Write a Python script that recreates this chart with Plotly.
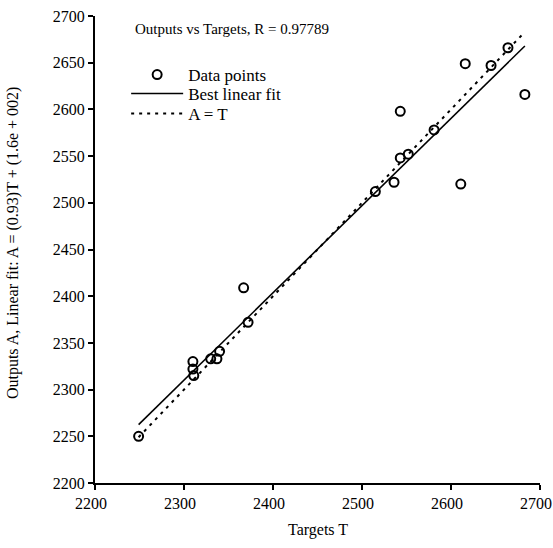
import numpy as np
import plotly.graph_objects as go

# Targets T and network outputs A
targets = [2249, 2310, 2310, 2311, 2330, 2337, 2340, 2367, 2372, 2515,
           2536, 2543, 2543, 2552, 2581, 2611, 2616, 2645, 2664, 2683]
outputs = [2250, 2330, 2322, 2315, 2333, 2333, 2341, 2409, 2372, 2512,
           2522, 2548, 2598, 2552, 2578, 2520, 2649, 2647, 2666, 2616]

# Regression line parameters and correlation
fit_slope = 0.934
fit_intercept = 162.0
r_value = 0.97789

x_ticks = [2200, 2300, 2400, 2500, 2600, 2700]
y_ticks = [2200, 2250, 2300, 2350, 2400, 2450, 2500, 2550, 2600, 2650, 2700]

FONT = "Liberation Serif, Times New Roman, serif"

t = np.array(targets, dtype=float)
t_span = np.array([t.min(), t.max()])
fit_line = fit_slope * t_span + fit_intercept

fig = go.Figure()
fig.add_trace(go.Scatter(
    x=targets, y=outputs, mode="markers", name="Data points",
    marker=dict(symbol="circle-open", size=9, color="black",
                line=dict(width=2, color="black")),
    legend="legend",
))
fig.add_trace(go.Scatter(
    x=t_span, y=fit_line, mode="lines", name="Best linear fit",
    line=dict(color="black", width=1.6),
    legend="legend2",
))
fig.add_trace(go.Scatter(
    x=t_span, y=t_span, mode="lines", name="A = T",
    line=dict(color="black", width=2, dash="3px,5px"),
    legend="legend3",
))

txt = dict(family=FONT, color="black")

fig.add_annotation(
    x=0.085, y=0.972, xref="paper", yref="paper",
    xanchor="left", yanchor="middle", showarrow=False,
    text=f"Outputs vs Targets, R = {r_value:.5f}",
    font=dict(size=15, **txt),
)
fig.add_annotation(
    x=0.501, y=-0.10, xref="paper", yref="paper",
    xanchor="center", yanchor="middle", showarrow=False,
    text="Targets T", font=dict(size=16, **txt),
)
fig.add_annotation(
    x=-0.184, y=0.514, xref="paper", yref="paper",
    xanchor="center", yanchor="middle", showarrow=False, textangle=-90,
    text="Outputs A, Linear fit: A = (0.93)T + (1.6e + 002)",
    font=dict(size=16, **txt),
)

axis_common = dict(
    showline=True, linecolor="black", linewidth=2,
    ticks="outside", ticklen=5, tickwidth=2, tickcolor="black",
    showgrid=False, zeroline=False, mirror=False, automargin=False,
    ticklabeloverflow="allow",
    tickfont=dict(size=16, **txt),
)

legend_common = dict(
    xanchor="left", yanchor="middle",
    bgcolor="rgba(0,0,0,0)", borderwidth=0,
    font=dict(size=17, **txt), itemwidth=52,
)

fig.update_layout(
    width=553, height=548,
    margin=dict(l=95, r=13, t=16, b=65),
    paper_bgcolor="white", plot_bgcolor="white",
    showlegend=True,
    legend=dict(x=0.07, y=(483 - 75) / 467, **legend_common),
    legend2=dict(x=0.07, y=(483 - 94) / 467, **legend_common),
    legend3=dict(x=0.07, y=(483 - 114) / 467, **legend_common),
    xaxis=dict(range=[2200, 2700], tickvals=x_ticks, ticklabelshift=-4,
               **axis_common),
    yaxis=dict(range=[2200, 2700], tickvals=y_ticks, **axis_common),
)

fig.write_html("out.html")
